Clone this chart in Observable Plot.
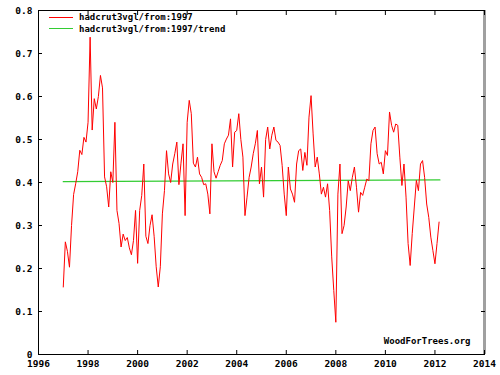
<!DOCTYPE html>
<html>
<head>
<meta charset="utf-8">
<script src="https://cdn.jsdelivr.net/npm/d3@7"></script>
<script src="https://cdn.jsdelivr.net/npm/@observablehq/plot@0.6"></script>
<style>
  html, body { margin: 0; padding: 0; background: #fff; }
  #wrap { position: relative; width: 500px; height: 375px; }
  .leg { position: absolute; font-family: "DejaVu Sans Mono", monospace; font-weight: bold; font-size: 9px; color: #000; white-space: nowrap; line-height: 10px; }
  .sw { position: absolute; height: 0; }
</style>
</head>
<body>
<div id="wrap"></div>
<script>
// ---- data ----
const seriesName = "hadcrut3vgl/from:1997";
const trendName = "hadcrut3vgl/from:1997/trend";
const creditText = "WoodForTrees.org";
const startYear = 1997; // monthly series from January 1997
const monthlyValues = [
  0.157, 0.262, 0.240, 0.203, 0.300, 0.372, 0.397, 0.425, 0.475, 0.465, 0.505, 0.494,
  0.540, 0.738, 0.522, 0.595, 0.571, 0.600, 0.649, 0.620, 0.413, 0.390, 0.343, 0.425,
  0.400, 0.540, 0.335, 0.305, 0.250, 0.280, 0.265, 0.272, 0.248, 0.232, 0.265, 0.335,
  0.212, 0.335, 0.370, 0.443, 0.275, 0.258, 0.300, 0.325, 0.275, 0.204, 0.157, 0.204,
  0.327, 0.381, 0.474, 0.420, 0.400, 0.443, 0.467, 0.494, 0.395, 0.445, 0.490, 0.323,
  0.540, 0.591, 0.560, 0.445, 0.436, 0.459, 0.420, 0.412, 0.395, 0.397, 0.373, 0.327,
  0.490, 0.425, 0.410, 0.425, 0.440, 0.451, 0.490, 0.501, 0.510, 0.548, 0.436, 0.517,
  0.521, 0.560, 0.500, 0.459, 0.323, 0.366, 0.412, 0.436, 0.467, 0.490, 0.521, 0.397,
  0.436, 0.366, 0.500, 0.529, 0.478, 0.510, 0.529, 0.498, 0.494, 0.486, 0.440, 0.373,
  0.323, 0.436, 0.385, 0.373, 0.354, 0.443, 0.474, 0.478, 0.428, 0.470, 0.440, 0.552,
  0.602, 0.513, 0.436, 0.459, 0.420, 0.373, 0.389, 0.366, 0.397, 0.335, 0.227, 0.149,
  0.075, 0.373, 0.443, 0.281, 0.300, 0.343, 0.404, 0.381, 0.412, 0.436, 0.389, 0.331,
  0.377, 0.370, 0.389, 0.408, 0.404, 0.490, 0.521, 0.529, 0.467, 0.443, 0.447, 0.420,
  0.474, 0.463, 0.564, 0.533, 0.517, 0.536, 0.533, 0.459, 0.393, 0.443, 0.366, 0.258,
  0.207, 0.281, 0.343, 0.405, 0.381, 0.443, 0.451, 0.412, 0.350, 0.319, 0.273, 0.242,
  0.211, 0.258, 0.308
];
const trendYears = [1997, 2012.2];
const trendValues = [0.402, 0.406];
const xTicks = [1996, 1998, 2000, 2002, 2004, 2006, 2008, 2010, 2012, 2014];
const yTicks = [0, 0.1, 0.2, 0.3, 0.4, 0.5, 0.6, 0.7, 0.8];
const xDomain = [1996, 2014];
const yDomain = [0, 0.8];

const series = monthlyValues.map((v, i) => ({year: startYear + i / 12, value: v}));
const trend = trendYears.map((y, i) => ({year: y, value: trendValues[i]}));

const yFmt = d => d === 0 ? "0" : d.toFixed(1);
const blank = () => "";

const chart = Plot.plot({
  width: 500,
  height: 375,
  marginLeft: 38,
  marginRight: 16,
  marginTop: 10,
  marginBottom: 21,
  style: {fontFamily: "'DejaVu Sans Mono', monospace", fontSize: "9.5px", fontWeight: "bold", color: "#000", background: "#fff"},
  x: {domain: xDomain, label: null},
  y: {domain: yDomain, label: null},
  marks: [
    Plot.line(trend, {x: "year", y: "value", stroke: "#33cc33", strokeWidth: 1.3}),
    Plot.line(series, {x: "year", y: "value", stroke: "#ff0000", strokeWidth: 1}),
    Plot.frame({stroke: "#000"}),
    Plot.ruleX([xDomain[1]], {stroke: "#a0a0a0", strokeWidth: 3}),
    // labels
    Plot.axisX({ticks: xTicks, tickSize: 0, tickPadding: 6, tickFormat: d => String(d), fill: "#000", label: null}),
    Plot.axisY({ticks: yTicks, tickSize: 0, tickPadding: 6, tickFormat: yFmt, fill: "#000", label: null}),
    // inward ticks on all sides
    Plot.axisX({anchor: "bottom", ticks: xTicks, tickSize: -4, tickFormat: blank, label: null}),
    Plot.axisX({anchor: "top", ticks: xTicks, tickSize: -4, tickFormat: blank, label: null}),
    Plot.axisY({anchor: "left", ticks: yTicks, tickSize: -4, tickFormat: blank, label: null}),
    Plot.axisY({anchor: "right", ticks: yTicks, tickSize: -4, tickFormat: blank, label: null}),
    Plot.text([creditText], {frameAnchor: "bottom-right", dx: -14, dy: -11, fontSize: 9, fontWeight: "bold", fill: "#000"})
  ]
});

const wrap = document.getElementById("wrap");
wrap.appendChild(chart);

// legend (inside the plot area, top-left)
const legendItems = [
  {name: seriesName, color: "#ff0000"},
  {name: trendName, color: "#33cc33"}
];
legendItems.forEach((item, i) => {
  const cy = 17 + i * 11.7;
  const sw = document.createElement("div");
  sw.className = "sw";
  sw.style.left = "49px";
  sw.style.width = "24px";
  sw.style.top = (cy - 0.5) + "px";
  sw.style.borderTop = "1px solid " + item.color;
  wrap.appendChild(sw);
  const t = document.createElement("div");
  t.className = "leg";
  t.style.left = "79px";
  t.style.top = (cy - 5) + "px";
  t.textContent = item.name;
  wrap.appendChild(t);
});
</script>
</body>
</html>
